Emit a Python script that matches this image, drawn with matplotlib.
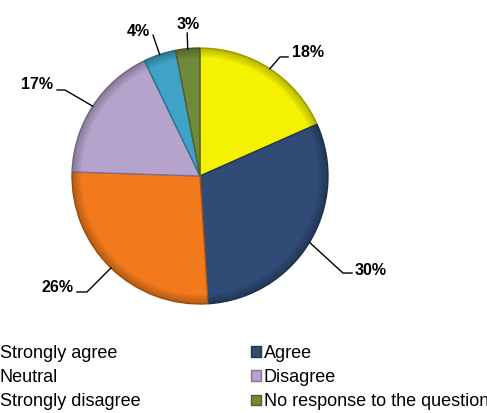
import matplotlib.pyplot as plt
import matplotlib.colors as mcolors
import numpy as np

plt.rcParams['font.family'] = ['Liberation Sans', 'DejaVu Sans']

# Survey answers
categories = ['Strongly agree', 'Agree', 'Neutral', 'Disagree',
              'Strongly disagree', 'No response to the question']
values = [18, 30, 26, 17, 4, 3]
colors = ['#F4F200', '#2F4B76', '#F27A1C', '#B5A3CB', '#3FA3C7', '#71893A']

# Leader lines: elbow point, end of the short horizontal part, text anchor
elbows = [(0.625, 0.93), (1.117, -0.758), (-0.883, -0.906),
          (-1.055, 0.672), (-0.367, 1.10), (-0.10, 1.117)]
ends = [(0.6875, 0.93), (1.1875, -0.758), (-0.961, -0.906),
        (-1.117, 0.672), (-0.367, 1.10), (-0.10, 1.117)]
text_pos = [(0.72, 0.965, 'left'), (1.21, -0.735, 'left'), (-0.99, -0.875, 'right'),
            (-1.148, 0.711, 'right'), (-0.39, 1.125, 'right'), (-0.09, 1.18, 'center')]


def darker(c, k=0.55):
    r, g, b = mcolors.to_rgb(c)
    return (r * k, g * k, b * k)


fig = plt.figure(figsize=(4.87, 4.13), dpi=100)
ax = fig.add_axes([72 / 487, 109 / 413, 256 / 487, 256 / 413])

wedges, _ = ax.pie(values, colors=colors, startangle=90, counterclock=False,
                   radius=1)
for w, c in zip(wedges, colors):
    w.set_edgecolor(darker(c, 0.7))
    w.set_linewidth(1.0)

# soft dark rim near the outer edge for a bit of depth
rim = 0.012
for k in range(6):
    rings, _ = ax.pie(values, colors=[darker(c, 0.5) for c in colors],
                      startangle=90, counterclock=False, radius=1 - k * rim,
                      wedgeprops=dict(width=rim, linewidth=0, alpha=0.5 * (6 - k) / 6))

ax.set_xlim(-1, 1)
ax.set_ylim(-1, 1)
ax.set_aspect('equal')
ax.axis('off')

# Percentage labels with leader lines from the middle of each slice
total = sum(values)
start = 90.0
for i, v in enumerate(values):
    mid = np.deg2rad(start - v / total * 360 / 2)
    start -= v / total * 360
    x0, y0 = np.cos(mid), np.sin(mid)
    ex, ey = elbows[i]
    hx, hy = ends[i]
    ax.plot([x0, ex, hx], [y0, ey, hy], color='black', lw=1, clip_on=False)
    tx, ty, ha = text_pos[i]
    ax.text(tx, ty, f'{v}%', ha=ha, va='center', fontsize=11.5,
            fontweight='bold', clip_on=False)

# Legend in two columns, the left one starts past the figure edge
leg_kw = dict(loc='upper left', frameon=False, fontsize=13, borderpad=0,
              handlelength=0.55, handleheight=0.55, handletextpad=0.15,
              labelspacing=0.4, borderaxespad=0)
left = fig.legend(wedges[0::2], categories[0::2],
                  bbox_to_anchor=(-13 / 487, 1 - 345 / 413), **leg_kw)
right = fig.legend(wedges[1::2], categories[1::2],
                   bbox_to_anchor=(251 / 487, 1 - 345 / 413), **leg_kw)

fig.savefig('out.png', dpi=100)
